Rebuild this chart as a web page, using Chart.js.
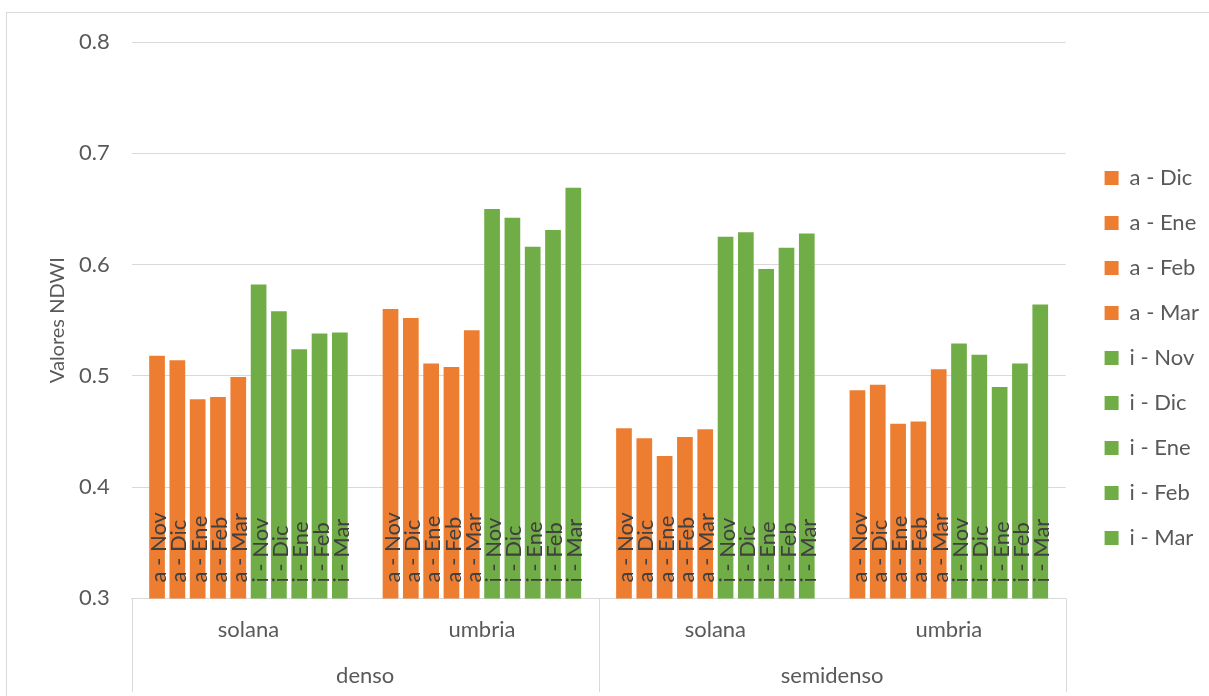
<!DOCTYPE html>
<html>
<head>
<meta charset="utf-8">
<title>Valores NDWI</title>
<script src="https://cdn.jsdelivr.net/npm/chart.js@4.4.1/dist/chart.umd.min.js"></script>
<style>
  html, body { margin: 0; padding: 0; background: #ffffff; }
  #wrap { position: relative; width: 1209px; height: 696px; overflow: hidden; }
  #frame { position: absolute; left: 6px; top: 12px; width: 1230px; height: 720px;
           border: 1px solid #d9d9d9; box-sizing: border-box; }
  #chart { position: absolute; left: 0; top: 0; }
</style>
</head>
<body>
<div id="wrap">
  <div id="frame"></div>
  <canvas id="chart" width="1209" height="696"></canvas>
</div>
<script>
// Inner category level (aspect) and outer level (density)
const aspects = ['solana', 'umbria', 'solana', 'umbria'];
const densities = ['denso', 'semidenso'];

// Series names: a = first group of months, i = second group of months
const seriesNames = ['a - Nov', 'a - Dic', 'a - Ene', 'a - Feb', 'a - Mar',
                     'i - Nov', 'i - Dic', 'i - Ene', 'i - Feb', 'i - Mar'];

// NDWI per series, in the order: denso-solana, denso-umbria, semidenso-solana, semidenso-umbria
const aNov = [0.518, 0.560, 0.453, 0.487];
const aDic = [0.514, 0.552, 0.444, 0.492];
const aEne = [0.479, 0.511, 0.428, 0.457];
const aFeb = [0.481, 0.508, 0.445, 0.459];
const aMar = [0.499, 0.541, 0.452, 0.506];
const iNov = [0.582, 0.650, 0.625, 0.529];
const iDic = [0.558, 0.642, 0.629, 0.519];
const iEne = [0.524, 0.616, 0.596, 0.490];
const iFeb = [0.538, 0.631, 0.615, 0.511];
const iMar = [0.539, 0.669, 0.628, 0.564];
const seriesValues = [aNov, aDic, aEne, aFeb, aMar, iNov, iDic, iEne, iFeb, iMar];

// Value axis ticks
const yTicks = [0.3, 0.4, 0.5, 0.6, 0.7, 0.8];

const FONT = 'Lato';
const TEXT = '#595959';
const LINE = '#d9d9d9';
const ORANGE = '#ED7D31';
const GREEN = '#70AD47';

// Series name written upright inside the base of every bar
// (bars start below the axis minimum, so the visible base is the plot bottom)
const barNames = {
  id: 'barNames',
  afterDatasetsDraw(chart) {
    const ctx = chart.ctx;
    const bottom = chart.chartArea.bottom;
    chart.data.datasets.forEach((ds, i) => {
      const meta = chart.getDatasetMeta(i);
      if (meta.hidden) return;
      meta.data.forEach(bar => {
        const base = Math.min(bar.base, bottom);
        ctx.save();
        ctx.translate(bar.x, base - 16);
        ctx.rotate(-Math.PI / 2);
        ctx.font = '22px ' + FONT;
        ctx.fillStyle = '#404040';
        ctx.textAlign = 'left';
        ctx.textBaseline = 'middle';
        ctx.fillText(ds.label, 0, 2);
        ctx.restore();
      });
    });
  }
};

// Vertical dividers between the outer category groups, below the plot
const groupDividers = {
  id: 'groupDividers',
  afterDraw(chart) {
    const x = chart.scales.x;
    const outer = chart.scales.x2;
    const half = aspects.length / densities.length;
    const xs = [x.left];
    for (let g = 1; g < densities.length; g++) {
      xs.push((x.getPixelForValue(g * half - 1) + x.getPixelForValue(g * half)) / 2);
    }
    xs.push(x.right);
    const ctx = chart.ctx;
    ctx.save();
    ctx.strokeStyle = LINE;
    ctx.lineWidth = 1;
    xs.forEach(px => {
      const cx = Math.round(px) + 0.5;
      ctx.beginPath();
      ctx.moveTo(cx, x.top);
      ctx.lineTo(cx, outer.bottom);
      ctx.stroke();
    });
    ctx.restore();
  }
};

// Wider gap between the plot and the legend column, and a slightly higher column
const legendGap = {
  id: 'legendGap',
  afterLayout(chart) {
    const lg = chart.legend;
    const dx = 39 - lg.options.labels.padding;
    const dy = -9;
    lg.left += dx;
    lg.right += dx;
    lg.top += dy;
    lg.bottom += dy;
  }
};

new Chart(document.getElementById('chart'), {
  type: 'bar',
  data: {
    labels: aspects,
    datasets: seriesNames.map((name, i) => ({
      label: name,
      data: seriesValues[i],
      backgroundColor: name.startsWith('a') ? ORANGE : GREEN,
      borderWidth: 0,
      categoryPercentage: 0.87,
      barPercentage: 0.773
    }))
  },
  plugins: [barNames, groupDividers, legendGap],
  options: {
    responsive: false,
    animation: false,
    layout: { padding: { top: 42, left: 6, right: 16, bottom: 4 } },
    plugins: {
      tooltip: { enabled: false },
      legend: {
        position: 'right',
        labels: {
          font: { family: FONT, size: 22 },
          color: TEXT,
          boxWidth: 14,
          boxHeight: 14,
          padding: 23,
          filter: item => item.datasetIndex !== 0
        }
      }
    },
    scales: {
      y: {
        min: yTicks[0],
        max: yTicks[yTicks.length - 1],
        afterBuildTicks: scale => { scale.ticks = yTicks.map(v => ({ value: v })); },
        ticks: {
          font: { family: FONT, size: 22 },
          color: TEXT,
          padding: 0,
          callback: v => Number(v).toFixed(1)
        },
        grid: { color: LINE, lineWidth: 1, tickColor: 'rgba(0,0,0,0)', tickLength: 22, drawTicks: true },
        border: { display: false },
        title: {
          display: true,
          text: 'Valores NDWI',
          font: { family: FONT, size: 20 },
          color: TEXT,
          padding: { top: 40, bottom: 9 }
        }
      },
      x: {
        position: 'bottom',
        weight: 0,
        grid: { display: false, drawTicks: false },
        border: { display: true, color: LINE, width: 1 },
        ticks: { font: { family: FONT, size: 22 }, color: TEXT, padding: 18, maxRotation: 0 }
      },
      x2: {
        type: 'category',
        position: 'bottom',
        weight: 1,
        labels: densities,
        offset: true,
        grid: { display: false, drawTicks: false },
        border: { display: false },
        ticks: { font: { family: FONT, size: 22 }, color: TEXT, padding: 2.4, maxRotation: 0 }
      }
    }
  }
});
</script>
</body>
</html>
